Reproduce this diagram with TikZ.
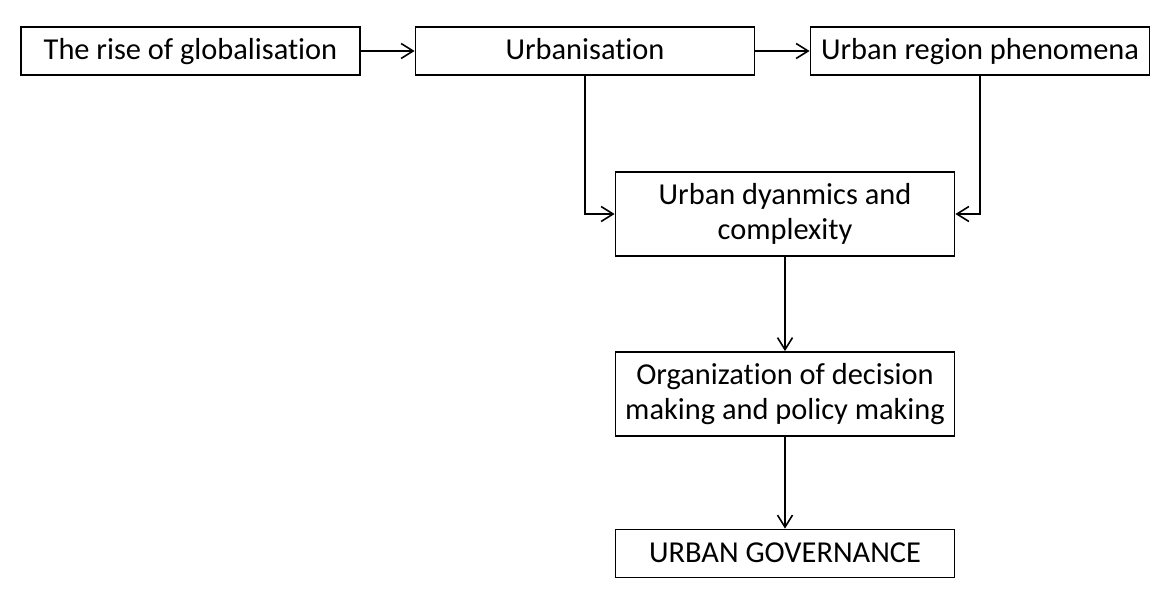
\documentclass[tikz,border=0pt]{standalone}
\usepackage{fontspec}
\setmainfont{Carlito}[Ligatures=NoCommon]
\usetikzlibrary{arrows.meta,positioning}
\definecolor{BoxLine}{HTML}{000000}
\definecolor{BoxBack}{HTML}{FFFFFF}
\tikzset{>={Straight Barb[length=6pt,width=7.5pt]},every node/.style={font=\fontsize{15.2pt}{17.5pt}\selectfont},
 block/.style={draw=BoxLine,fill=BoxBack,line width=0.9pt,minimum width=169.5pt,
 minimum height=24pt,inner sep=0pt,text height=11.5pt,text depth=2.5pt,align=center},
 tall/.style={block,minimum height=42pt,text height=,text depth=},
 link/.style={draw=BoxLine,line width=0.8pt,->}}
\begin{document}
\begin{tikzpicture}[x=0.5pt,y=-0.5pt]
\useasboundingbox (0,0) rectangle (1170,592);
\node[block] (glob) at (190.5,51) {The rise of globalisation};
\node[block] (urb) at (585,51) {Urbanisation};
\node[block] (reg) at (980,51) {Urban region phenomena};
\node[tall] (dyn) at (785,214) {Urban dyanmics and\\complexity};
\node[tall] (org) at (785,394) {Organization of decision\\making and policy making};
\node[block] (gov) at (785,553.5) {URBAN GOVERNANCE};
\draw[link] (glob.east)--(urb.west);
\draw[link] (urb.east)--(reg.west);
\draw[link] (urb.south)|-(dyn.west);
\draw[link] (reg.south)|-(dyn.east);
\draw[link] (dyn.south)--(org.north);
\draw[link] (org.south)--(gov.north);
\end{tikzpicture}
\end{document}
